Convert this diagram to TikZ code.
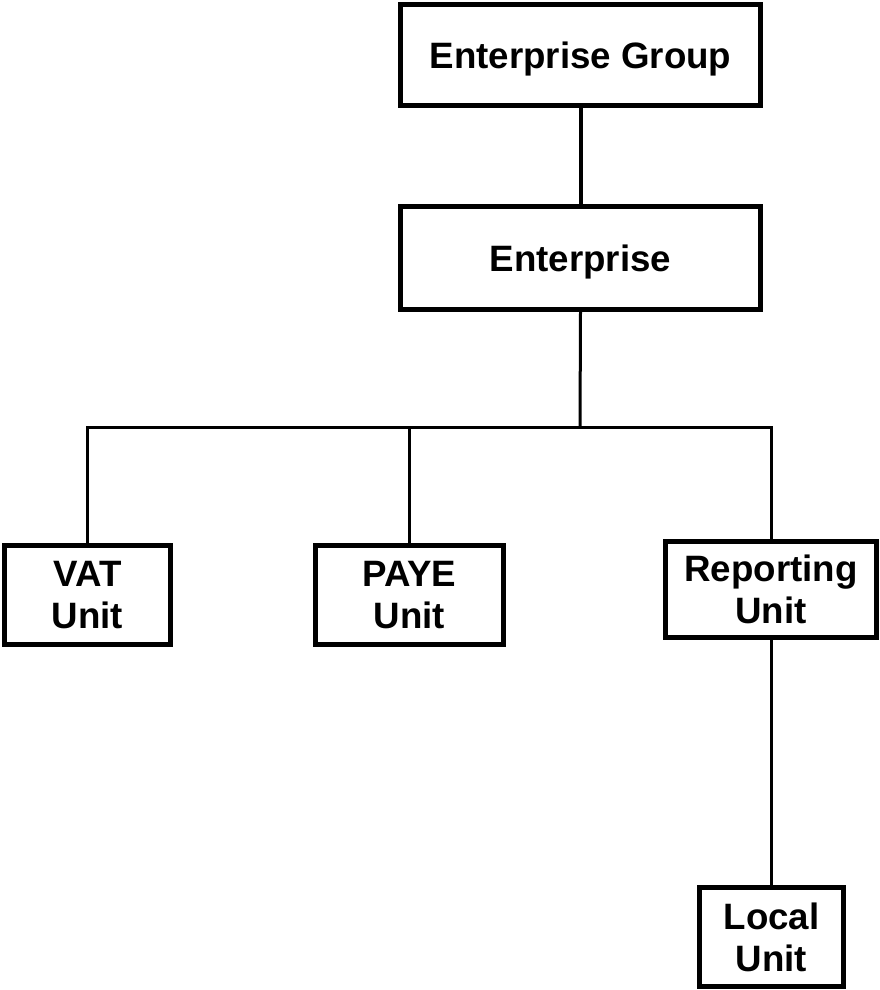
\documentclass[tikz,border=0pt]{standalone}
\usepackage{fontspec}
\setmainfont{Liberation Sans}
\begin{document}
\begin{tikzpicture}[x=1pt,y=-1pt,
  unitbox/.style={draw=black, line width=4.5pt, fill=white, rectangle,
    align=center, inner sep=0pt,
    font=\bfseries\fontsize{36.7}{42}\selectfont},
  tie/.style={draw=black, line width=3pt, line join=miter},
]
\useasboundingbox (0,0) rectangle (879,990);

% units
\node[unitbox, minimum width=360pt, minimum height=101pt, text depth=0pt]
  (eg) at (580.5,55) {Enterprise Group};
\node[unitbox, minimum width=360pt, minimum height=103pt, text depth=0pt]
  (ent) at (580.5,258) {Enterprise};
\node[unitbox, minimum width=166pt, minimum height=99pt]
  (vat) at (87.5,595) {VAT\\Unit};
\node[unitbox, minimum width=188pt, minimum height=99pt]
  (paye) at (409.5,595) {PAYE\\Unit};
\node[unitbox, minimum width=211pt, minimum height=96pt]
  (rep) at (771,589.5) {Reporting\\Unit};
\node[unitbox, minimum width=144pt, minimum height=99pt]
  (loc) at (771.5,937) {Local\\Unit};

% connectors
\coordinate (bus) at (580,427);
\draw[tie, line width=4pt] (eg.south) -- (ent.north);
\draw[tie] (ent.south) -- (bus);
\draw[tie] (vat.north) -- (vat.north |- bus) -- (bus -| rep.north) -- (rep.north);
\draw[tie] (paye.north |- bus) -- (paye.north);
\draw[tie] (rep.south) -- (rep.south |- loc.north);
\end{tikzpicture}
\end{document}
